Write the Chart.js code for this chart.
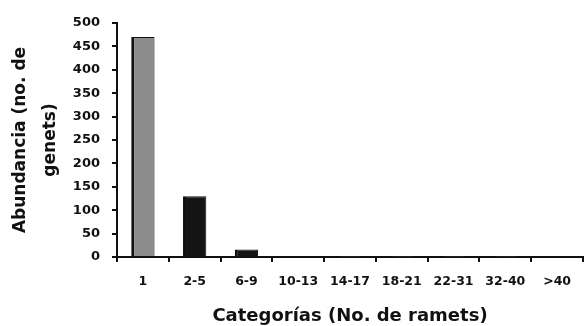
<!DOCTYPE html>
<html><head><meta charset="utf-8">
<script src="https://cdn.jsdelivr.net/npm/chart.js@4/dist/chart.umd.min.js"></script>
<style>html,body{margin:0;padding:0;background:#fff}#w{width:587px;height:326px}</style>
</head><body><div id="w"><canvas id="c"></canvas></div>
<script>
const categories = ["1","2-5","6-9","10-13","14-17","18-21","22-31","32-40",">40"];
const abundance = [470,130,16,2,1,1,1,1,2];
const yTicks = [0,50,100,150,200,250,300,350,400,450,500];
const barColors = ["#8c8c8c","#141414","#141414","#333","#999","#999","#999","#999","#333"];
const F = 'DejaVu Sans, Liberation Sans, Arial';

new Chart(document.getElementById('c'), {
  type: 'bar',
  data: { labels: categories, datasets: [{ data: abundance, backgroundColor: barColors,
    borderColor: "#111", borderWidth: {left:3,right:1,top:1,bottom:0}, borderSkipped: false,
    barPercentage: 0.45, categoryPercentage: 1.0 }] },
  options: {
    responsive: true, maintainAspectRatio: false, animation: false,
    layout: { padding: { left: 0, right: 4, top: 23, bottom: 0 } },
    plugins: { legend: { display: false }, tooltip: { enabled: false } },
    scales: {
      x: {
        grid: { display: true, offset: true, drawOnChartArea: false, drawTicks: true, tickLength: 5, color: '#111', lineWidth: 2 },
        border: { display: true, color: '#111', width: 2 },
        ticks: { color: '#111', font: { family: F, size: 12.5, weight: 'bold' }, padding: 12, maxRotation: 0, autoSkip: false },
        title: { display: true, text: 'Categorías (No. de ramets)', color: '#111', font: { family: F, size: 18, weight: 'bold', lineHeight: 1.2 }, padding: { top: 0, bottom: -1 } },
        afterFit: s => { s.height = 69; }
      },
      y: {
        min: 0, max: 500,
        afterBuildTicks: s => { s.ticks = yTicks.map(v => ({ value: v })); },
        grid: { display: true, drawOnChartArea: false, drawTicks: true, tickLength: 5, color: '#111', lineWidth: 2 },
        border: { display: true, color: '#111', width: 2 },
        ticks: { color: '#111', font: { family: F, size: 13, weight: 'bold' }, padding: 12 },
        title: { display: true, text: ['Abundancia (no. de', 'genets)'], color: '#111', font: { family: F, size: 17, weight: 'bold', lineHeight: 1.8 }, padding: { top: 5, bottom: 0 } },
        afterFit: s => { s.width = 117; }
      }
    }
  }
});
</script></body></html>
